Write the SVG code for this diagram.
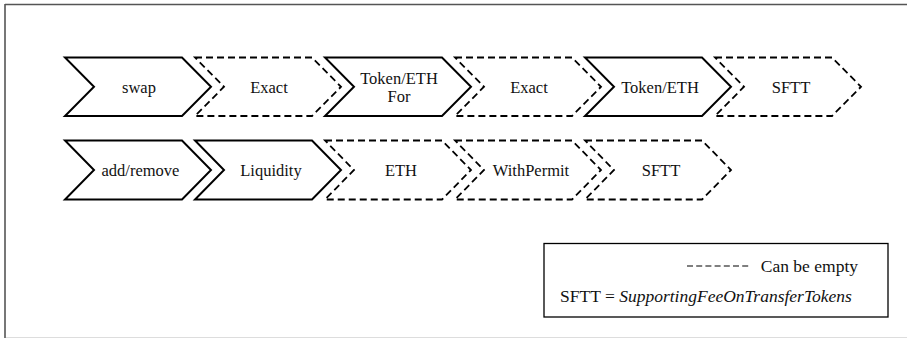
<svg xmlns="http://www.w3.org/2000/svg" width="907" height="338" viewBox="0 0 907 338">
<style>
.solid{fill:#fff;stroke:#000;stroke-width:2;stroke-linejoin:miter}
.dash{fill:#fff;stroke:#000;stroke-width:1.8;stroke-dasharray:7 4;stroke-linejoin:miter}
text{font-family:"Liberation Serif",serif}
.lbl{font-size:16.5px;fill:#111;text-anchor:middle}
.leg{font-size:17.5px;fill:#111}
</style>
<rect x="0" y="0" width="907" height="338" fill="#fff"/>
<line x1="5" y1="4.5" x2="907" y2="4.5" stroke="#555" stroke-width="1.6"/>
<line x1="5" y1="4" x2="5" y2="338" stroke="#555" stroke-width="1.6"/>
<line x1="6" y1="337.5" x2="907" y2="337.5" stroke="#ddd" stroke-width="1"/>

<g id="row1-swap"><path class="solid" d="M65,57.5 L182,57.5 L211,86.75 L182,116 L65,116 L94,86.75 Z"/><text class="lbl" x="139" y="92.5">swap</text></g>
<g id="row1-exact1"><path class="dash" d="M195,57.5 L312,57.5 L341,86.75 L312,116 L195,116 L224,86.75 Z"/><text class="lbl" x="269" y="92.5">Exact</text></g>
<g id="row1-tokenethfor"><path class="solid" d="M325,57.5 L442,57.5 L471,86.75 L442,116 L325,116 L354,86.75 Z"/><text class="lbl" x="399" y="83.5">Token/ETH</text><text class="lbl" x="399" y="101.5">For</text></g>
<g id="row1-exact2"><path class="dash" d="M455,57.5 L572,57.5 L601,86.75 L572,116 L455,116 L484,86.75 Z"/><text class="lbl" x="529" y="92.5">Exact</text></g>
<g id="row1-tokeneth"><path class="solid" d="M585,57.5 L702,57.5 L731,86.75 L702,116 L585,116 L614,86.75 Z"/><text class="lbl" x="660" y="92.5">Token/ETH</text></g>
<g id="row1-sftt"><path class="dash" d="M715,57.5 L832,57.5 L861,86.75 L832,116 L715,116 L744,86.75 Z"/><text class="lbl" x="791" y="92.5">SFTT</text></g>

<g id="row2-addremove"><path class="solid" d="M65,140.5 L182,140.5 L211,170 L182,199.5 L65,199.5 L94,170 Z"/><text class="lbl" x="140.5" y="175.8">add/remove</text></g>
<g id="row2-liquidity"><path class="solid" d="M195,140.5 L312,140.5 L341,170 L312,199.5 L195,199.5 L224,170 Z"/><text class="lbl" x="271" y="175.8">Liquidity</text></g>
<g id="row2-eth"><path class="dash" d="M325,140.5 L442,140.5 L471,170 L442,199.5 L325,199.5 L354,170 Z"/><text class="lbl" x="401" y="175.8">ETH</text></g>
<g id="row2-withpermit"><path class="dash" d="M455,140.5 L572,140.5 L601,170 L572,199.5 L455,199.5 L484,170 Z"/><text class="lbl" x="531" y="175.8">WithPermit</text></g>
<g id="row2-sftt"><path class="dash" d="M585,140.5 L702,140.5 L731,170 L702,199.5 L585,199.5 L614,170 Z"/><text class="lbl" x="661" y="175.8">SFTT</text></g>

<g id="legend">
<rect x="544" y="243.5" width="344" height="73.5" fill="#fff" stroke="#000" stroke-width="1.3"/>
<line x1="687" y1="266" x2="748.5" y2="266" stroke="#000" stroke-width="1.2" stroke-dasharray="6 3.2"/>
<text class="leg" x="858" y="272" text-anchor="end">Can be empty</text>
<text class="leg" x="560" y="302">SFTT = <tspan font-style="italic">SupportingFeeOnTransferTokens</tspan></text>
</g>
</svg>
